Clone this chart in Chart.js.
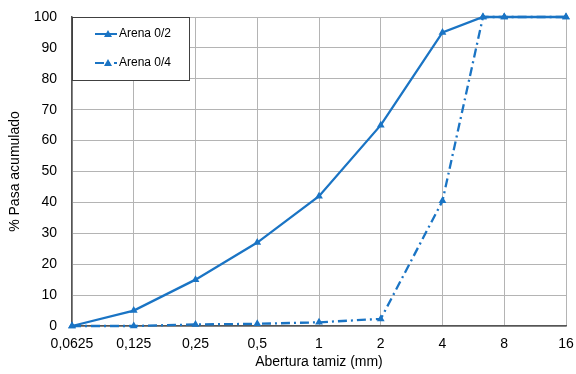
<!DOCTYPE html>
<html>
<head>
<meta charset="utf-8">
<script src="https://cdn.jsdelivr.net/npm/chart.js@4"></script>
<style>
  html, body { margin: 0; padding: 0; background: #fff; }
  #wrap { width: 576px; height: 374px; }
</style>
</head>
<body>
<div id="wrap"><canvas id="myChart" width="576" height="374"></canvas></div>
<script>
    // sieve openings (mm) and cumulative passing (%)
    var sieves = [0.0625, 0.125, 0.25, 0.5, 1, 2, 4, 6.3, 8, 16];
    var arena02 = [0, 5, 15, 27, 42, 65, 95, 100, 100, 100];
    var arena04 = [0, 0, 0.5, 0.7, 1.2, 2.3, 40.5, 100, 100, 100];
    var xTicks = [0.0625, 0.125, 0.25, 0.5, 1, 2, 4, 8, 16];
    var seriesNames = ['Arena 0/2', 'Arena 0/4'];

    var blue = '#1a74c4';
    var font = 'Liberation Sans, Arial, sans-serif';

    function toPoints(vals) {
        return sieves.map(function (s, i) { return { x: s, y: vals[i] }; });
    }

    // legend box drawn inside the plot, top-left
    var boxLegend = {
        id: 'boxLegend',
        afterDraw: function (chart) {
            var ctx = chart.ctx;
            var a = chart.chartArea;
            var x0 = a.left, y0 = a.top, w = 117, h = 63;
            ctx.save();
            ctx.fillStyle = '#fff';
            ctx.fillRect(x0, y0, w, h);
            ctx.strokeStyle = '#404040';
            ctx.lineWidth = 1;
            ctx.strokeRect(x0 + 0.5, y0 + 0.5, w, h);
            chart.data.datasets.forEach(function (ds, i) {
                var y = y0 + 17 + i * 29;
                ctx.strokeStyle = ds.borderColor;
                ctx.lineWidth = 2;
                ctx.setLineDash(ds.borderDash || []);
                ctx.beginPath();
                ctx.moveTo(x0 + 23, y);
                ctx.lineTo(x0 + 45, y);
                ctx.stroke();
                ctx.setLineDash([]);
                ctx.fillStyle = ds.borderColor;
                ctx.beginPath();
                ctx.moveTo(x0 + 36, y - 4);
                ctx.lineTo(x0 + 40, y + 3);
                ctx.lineTo(x0 + 32, y + 3);
                ctx.closePath();
                ctx.fill();
                ctx.fillStyle = '#000';
                ctx.font = '12px ' + font;
                ctx.textBaseline = 'middle';
                ctx.fillText(ds.label, x0 + 47, y);
            });
            ctx.restore();
        }
    };

    var ctx = document.getElementById('myChart').getContext('2d');
    var myChart = new Chart(ctx, {
        type: 'line',
        data: {
            datasets: [{
                label: seriesNames[0],
                data: toPoints(arena02),
                borderColor: blue,
                backgroundColor: blue,
                borderWidth: 2.3,
                pointStyle: 'triangle',
                pointRadius: 4.5,
                pointBorderWidth: 0,
                tension: 0,
                order: 1
            }, {
                label: seriesNames[1],
                data: toPoints(arena04),
                borderColor: blue,
                backgroundColor: blue,
                borderWidth: 2.3,
                borderDash: [9, 4, 2, 4],
                pointStyle: 'triangle',
                pointRadius: 4.5,
                pointBorderWidth: 0,
                tension: 0,
                order: 2
            }]
        },
        options: {
            responsive: false,
            animation: false,
            clip: false,
            layout: { padding: { top: 17, right: 10, left: 0, bottom: 0 } },
            plugins: {
                legend: { display: false },
                tooltip: { enabled: false }
            },
            scales: {
                x: {
                    type: 'logarithmic',
                    min: 0.0625,
                    max: 16,
                    afterBuildTicks: function (scale) {
                        scale.ticks = xTicks.map(function (v) { return { value: v }; });
                    },
                    afterFit: function (scale) {
                        scale.height = 48;
                        scale.paddingLeft = 0;
                        scale.paddingRight = 0;
                    },
                    grid: { color: '#b4b4b4', lineWidth: 1, drawTicks: false },
                    border: { color: '#555', width: 1.5 },
                    ticks: {
                        autoSkip: false,
                        maxRotation: 0,
                        padding: 10,
                        color: '#000',
                        font: { family: font, size: 14 },
                        callback: function (v) { return String(v).replace('.', ','); }
                    },
                    title: {
                        display: true,
                        text: 'Abertura tamiz (mm)',
                        color: '#000',
                        font: { family: font, size: 14 },
                        padding: { top: 0, bottom: 3 }
                    }
                },
                y: {
                    min: 0,
                    max: 100,
                    afterFit: function (scale) {
                        scale.width = 72;
                        scale.paddingTop = 0;
                        scale.paddingBottom = 0;
                    },
                    grid: { color: '#b4b4b4', lineWidth: 1, drawTicks: false },
                    border: { color: '#555', width: 1.5 },
                    ticks: {
                        stepSize: 10,
                        padding: 15,
                        color: '#000',
                        font: { family: font, size: 14 }
                    },
                    title: {
                        display: true,
                        text: '% Pasa acumulado',
                        color: '#000',
                        font: { family: font, size: 14 },
                        padding: { top: 7, bottom: 0 }
                    }
                }
            }
        },
        plugins: [boxLegend]
    });
</script>
</body>
</html>
